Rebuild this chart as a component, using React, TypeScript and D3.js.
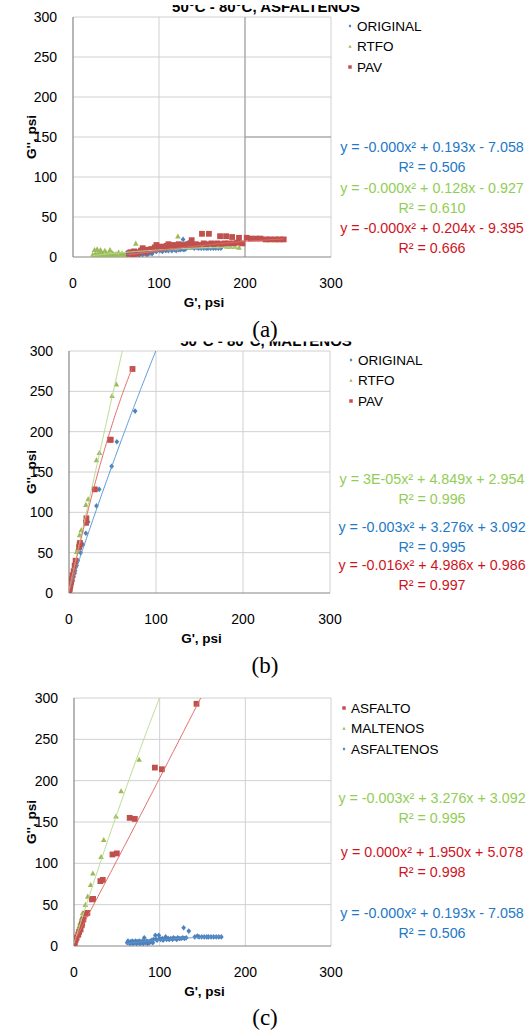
import React from "react";
import * as d3 from "d3";

type Pt = [number, number];

const W = 528;
const H = 1032;
const FONT = "'Liberation Sans', Arial, sans-serif";

const xTicks = [0, 100, 200, 300];
const yTicks = [0, 50, 100, 150, 200, 250, 300];

// (a) asfaltenos: original / rtfo / pav  (G', G'')
const originalA: Pt[] = [
  [62, 4], [63, 6], [65, 3], [66, 5], [67, 4], [68, 6], [69, 3], [70, 5], [71, 4], [72, 6],
  [73, 3], [74, 5], [75, 4], [76, 6], [77, 3], [78, 5], [79, 4], [80, 6], [81, 3], [82, 10],
  [83, 5], [84, 4], [85, 6], [86, 3], [87, 5], [88, 4], [89, 6], [90, 5], [91, 7], [92, 4],
  [93, 8], [95, 13], [96, 8], [97, 7], [99, 13], [100, 9], [101, 8], [103, 9], [104, 7], [106, 9],
  [107, 11], [108, 8], [110, 9], [111, 8], [113, 9], [115, 8], [116, 10], [118, 9], [120, 8], [121, 10],
  [123, 9], [125, 9], [127, 10], [128, 22], [129, 9], [131, 10], [134, 18], [141, 11], [144, 12], [146, 11],
  [149, 11], [152, 11], [155, 11], [157, 11], [160, 11], [163, 11], [166, 11], [169, 11], [172, 11],
];
const rtfoA: Pt[] = [
  [23, 3], [24, 1], [25, 9], [26, 4], [27, 2], [28, 10], [29, 5], [30, 1], [31, 3], [32, 9],
  [33, 6], [34, 2], [35, 4], [36, 1], [37, 8], [38, 3], [39, 5], [40, 2], [41, 1], [42, 4],
  [43, 9], [44, 3], [45, 2], [46, 5], [47, 1], [48, 3], [50, 4], [51, 2], [53, 6], [55, 3],
  [57, 5], [59, 2], [61, 4], [63, 3], [73, 17], [78, 9], [82, 7], [86, 10], [90, 9], [94, 11],
  [98, 10], [103, 12], [107, 11], [112, 10], [116, 12], [120, 11], [122, 26], [125, 13], [129, 12], [133, 13],
  [137, 12], [141, 14], [146, 13], [150, 13], [155, 14], [160, 13], [164, 14], [169, 13], [174, 14], [179, 13],
  [183, 13], [188, 13], [193, 12],
];
const pavA: Pt[] = [
  [65, 4], [67, 6], [69, 3], [71, 7], [73, 5], [75, 4], [77, 6], [79, 8], [81, 11], [83, 7],
  [85, 6], [87, 9], [89, 8], [91, 10], [93, 9], [95, 12], [97, 15], [99, 11], [101, 10], [103, 13],
  [105, 12], [107, 11], [109, 14], [111, 16], [113, 13], [115, 12], [117, 15], [119, 14], [121, 13], [123, 16],
  [125, 14], [127, 13], [129, 15], [131, 14], [133, 16], [135, 15], [138, 21], [140, 14], [143, 16], [146, 15],
  [150, 29], [152, 17], [155, 16], [158, 29], [161, 17], [164, 16], [168, 17], [171, 26], [173, 16], [176, 17],
  [178, 26], [181, 17], [185, 25], [187, 17], [191, 18], [193, 24], [197, 17], [202, 24], [207, 23], [213, 23],
  [218, 23], [224, 22], [229, 22], [235, 22], [240, 22], [245, 22],
];

// (b) maltenos: original / rtfo / pav
const originalB: Pt[] = [
  [0, 0], [0.5, 2], [1, 4], [1.5, 5], [2, 8], [3, 11], [4, 15], [5, 20], [6, 24], [7, 28],
  [8.8, 34], [10, 40], [13.3, 50], [16, 60], [19.4, 74], [22, 88], [31.6, 108], [34.7, 128.5], [49, 157], [55, 187.5],
  [76, 225.5],
];
const rtfoB: Pt[] = [
  [0, 0], [0.5, 3], [1, 6], [1.5, 9], [2.5, 13], [3, 17], [4, 22], [5, 25], [6, 30], [7, 36],
  [8, 40], [8.8, 51], [10, 55], [11, 60], [12.2, 72], [14, 78], [19.4, 109.5], [22, 116.5], [31.6, 165], [35, 174],
  [49.5, 244.6], [54.5, 258.7],
];
const pavB: Pt[] = [
  [0, 0], [0.3, 2], [0.8, 5], [1.2, 8], [1.7, 10], [2.5, 14], [3, 17], [4, 22], [5.3, 27], [6.5, 34],
  [7.6, 40], [11.7, 57], [12.2, 60], [12.6, 62], [19.6, 87], [20, 92.6], [29.7, 128.5], [47, 190], [48, 190], [73, 277.7],
];

// (c) asfalto / maltenos / asfaltenos
const asfaltoC: Pt[] = [
  [0, 1.5], [1, 4], [2, 7.5], [3, 10], [5, 13.6], [6, 17], [7.7, 20], [9, 25], [9.5, 27.4], [11, 32],
  [13.7, 39], [15.6, 40], [21, 56.4], [22.3, 57], [30.8, 78.5], [33.6, 80], [44.9, 110.7], [50, 112], [65, 155], [71, 153.7],
  [94.4, 215.8], [102.6, 213.8], [143, 293],
];
const maltenosC = originalB;
const asfaltenosC = originalA;

// trendline labels and the coefficients read from them (a, b, c of a x² + b x + c)
const eqA = ["y = -0.000x² + 0.193x - 7.058", "y = -0.000x² + 0.128x - 0.927", "y = -0.000x² + 0.204x - 9.395"];
const r2A = ["R² = 0.506", "R² = 0.610", "R² = 0.666"];
const coefA = [[-0.0005, 0.193, -7.058], [-0.0003, 0.128, -0.927], [-0.0003, 0.204, -9.395]];
const eqB = ["y = -0.003x² + 3.276x + 3.092", "y = 3E-05x² + 4.849x + 2.954", "y = -0.016x² + 4.986x + 0.986"];
const r2B = ["R² = 0.995", "R² = 0.996", "R² = 0.997"];
const coefB = [[-0.003, 3.276, 3.092], [3e-5, 4.849, 2.954], [-0.016, 4.986, 0.986]];
const eqC = ["y = 0.000x² + 1.950x + 5.078", "y = -0.003x² + 3.276x + 3.092", "y = -0.000x² + 0.193x - 7.058"];
const r2C = ["R² = 0.998", "R² = 0.995", "R² = 0.506"];
const coefC = [[0.0003, 1.95, 5.078], [-0.003, 3.276, 3.092], [-0.0005, 0.193, -7.058]];

const BLUE = { mark: "#4F81BD", line: "#5B9BD5", text: "#2478C6" };
const GREEN = { mark: "#9BBB59", line: "#BCDC92", text: "#92CD55" };
const RED = { mark: "#C0504D", line: "#E46A6A", text: "#D0141E" };

type Series = {
  name: string;
  data: Pt[];
  shape: "diamond" | "triangle" | "square";
  col: { mark: string; line: string; text: string };
  eq: string;
  r2: string;
  coef: number[];
  eqY: number;
  trendEnd?: number;
};

type Panel = {
  id: string;
  left: number; right: number; top: number; bottom: number;
  title?: string; titleY?: number; titleClipTop?: number;
  caption: string; captionY: number;
  legendX: number; legendY: number;
  series: Series[];
  drawOrder: number[];
  darkGrid?: boolean;
};

const panels: Panel[] = [
  {
    id: "a", left: 73, right: 331, top: 17, bottom: 257,
    title: "50°C - 80°C, ASFALTENOS", titleY: 12, titleClipTop: 5,
    caption: "(a)", captionY: 329, legendX: 350, legendY: 26, darkGrid: true,
    series: [
      { name: "ORIGINAL", data: originalA, shape: "diamond", col: BLUE, eq: eqA[0], r2: r2A[0], coef: coefA[0], eqY: 147 },
      { name: "RTFO", data: rtfoA, shape: "triangle", col: GREEN, eq: eqA[1], r2: r2A[1], coef: coefA[1], eqY: 188 },
      { name: "PAV", data: pavA, shape: "square", col: RED, eq: eqA[2], r2: r2A[2], coef: coefA[2], eqY: 228 },
    ],
    drawOrder: [0, 1, 2],
  },
  {
    id: "b", left: 69, right: 330, top: 351, bottom: 593,
    title: "50°C - 80°C, MALTENOS", titleY: 345.5, titleClipTop: 341.5,
    caption: "(b)", captionY: 665, legendX: 351, legendY: 360,
    series: [
      { name: "ORIGINAL", data: originalB, shape: "diamond", col: BLUE, eq: eqB[0], r2: r2B[0], coef: coefB[0], eqY: 527, trendEnd: 105 },
      { name: "RTFO", data: rtfoB, shape: "triangle", col: GREEN, eq: eqB[1], r2: r2B[1], coef: coefB[1], eqY: 479, trendEnd: 80 },
      { name: "PAV", data: pavB, shape: "square", col: RED, eq: eqB[2], r2: r2B[2], coef: coefB[2], eqY: 565 },
    ],
    drawOrder: [0, 1, 2],
  },
  {
    id: "c", left: 74, right: 331, top: 698, bottom: 946,
    caption: "(c)", captionY: 1017, legendX: 344, legendY: 708,
    series: [
      { name: "ASFALTO", data: asfaltoC, shape: "square", col: RED, eq: eqC[0], r2: r2C[0], coef: coefC[0], eqY: 852, trendEnd: 160 },
      { name: "MALTENOS", data: maltenosC, shape: "triangle", col: GREEN, eq: eqC[1], r2: r2C[1], coef: coefC[1], eqY: 798, trendEnd: 105 },
      { name: "ASFALTENOS", data: asfaltenosC, shape: "diamond", col: BLUE, eq: eqC[2], r2: r2C[2], coef: coefC[2], eqY: 913 },
    ],
    drawOrder: [2, 1, 0],
  },
];

function Marker({ shape, color, x, y, s = 1 }: { shape: string; color: string; x: number; y: number; s?: number }) {
  if (shape === "square") {
    const h = 2.9 * s;
    return <rect x={x - h} y={y - h} width={2 * h} height={2 * h} fill={color} />;
  }
  if (shape === "triangle") {
    const h = 2.8 * s;
    return <path d={`M${x},${y - h}L${x + h},${y + h * 0.8}L${x - h},${y + h * 0.8}Z`} fill={color} />;
  }
  const h = 2.8 * s;
  return <path d={`M${x},${y - h}L${x + h * 0.85},${y}L${x},${y + h}L${x - h * 0.85},${y}Z`} fill={color} />;
}

function ChartPanel({ p }: { p: Panel }) {
  const x = d3.scaleLinear().domain([0, 300]).range([p.left, p.right]);
  const y = d3.scaleLinear().domain([0, 300]).range([p.bottom, p.top]);
  const line = d3.line<Pt>().x((d) => x(d[0])).y((d) => y(d[1]));
  const midX = (p.left + p.right) / 2 + 2;
  const midY = (p.top + p.bottom) / 2;
  const eqX = 432;

  return (
    <g>
      <defs>
        <clipPath id={`plot-${p.id}`}>
          <rect x={p.left} y={p.top} width={p.right - p.left} height={p.bottom - p.top} />
        </clipPath>
        {p.titleClipTop !== undefined && (
          <clipPath id={`title-${p.id}`}>
            <rect x={0} y={p.titleClipTop} width={W} height={40} />
          </clipPath>
        )}
      </defs>

      {p.title && (
        <text
          x={266}
          y={p.titleY}
          textAnchor="middle"
          fontFamily={FONT}
          fontWeight="bold"
          fontSize={15}
          clipPath={p.titleClipTop !== undefined ? `url(#title-${p.id})` : undefined}
        >
          {p.title}
        </text>
      )}

      {/* grid */}
      {yTicks.filter((t) => t > 0).map((t) => (
        <line key={`gy${t}`} x1={p.left} x2={p.right} y1={y(t)} y2={y(t)} stroke="#D0D0D0" strokeWidth={1} />
      ))}
      {xTicks.filter((t) => t > 0).map((t) => (
        <line key={`gx${t}`} x1={x(t)} x2={x(t)} y1={p.top} y2={p.bottom} stroke="#D0D0D0" strokeWidth={1} />
      ))}
      {p.darkGrid && (
        <g stroke="#999" strokeWidth={1}>
          <line x1={x(200)} x2={x(200)} y1={p.top} y2={p.bottom} />
          <line x1={x(200)} x2={p.right} y1={y(150)} y2={y(150)} />
        </g>
      )}
      <line x1={p.left} x2={p.left} y1={p.top} y2={p.bottom} stroke="#868686" strokeWidth={1.2} />
      <line x1={p.left} x2={p.right} y1={p.bottom} y2={p.bottom} stroke="#868686" strokeWidth={1.2} />

      {/* ticks */}
      {yTicks.map((t) => (
        <text key={`ty${t}`} x={p.left - 16} y={y(t)} dy="0.35em" textAnchor="end" fontFamily={FONT} fontSize={14}>
          {t}
        </text>
      ))}
      {xTicks.map((t) => (
        <text key={`tx${t}`} x={x(t)} y={p.bottom + 26} dy="0.35em" textAnchor="middle" fontFamily={FONT} fontSize={14}>
          {t}
        </text>
      ))}
      <text x={midX} y={p.bottom + 45} dy="0.35em" textAnchor="middle" fontFamily={FONT} fontWeight="bold" fontSize={13.5}>
        G', psi
      </text>
      <text
        transform={`translate(31,${midY}) rotate(-90)`}
        textAnchor="middle"
        dy="0.35em"
        fontFamily={FONT}
        fontWeight="bold"
        fontSize={13.5}
      >
        G'', psi
      </text>

      {/* markers then trendlines */}
      <g clipPath={`url(#plot-${p.id})`}>
        {p.drawOrder.map((i) => {
          const s = p.series[i];
          return (
            <g key={`m${i}`}>
              {s.data.map((d, k) => (
                <Marker key={k} shape={s.shape} color={s.col.mark} x={x(d[0])} y={y(d[1])} />
              ))}
            </g>
          );
        })}
        {p.drawOrder.map((i) => {
          const s = p.series[i];
          const [a, b, c] = s.coef;
          const [x0, x1] = d3.extent(s.data, (d) => d[0]) as [number, number];
          const end = s.trendEnd ?? x1;
          const pts: Pt[] = d3.range(0, 121).map((k) => {
            const xv = x0 + ((end - x0) * k) / 120;
            return [xv, a * xv * xv + b * xv + c];
          });
          return <path key={`t${i}`} d={line(pts) ?? ""} fill="none" stroke={s.col.line} strokeWidth={1} />;
        })}
      </g>

      {/* legend */}
      {p.series.map((s, i) => (
        <g key={`l${i}`}>
          <Marker shape={s.shape} color={s.col.mark} x={p.legendX} y={p.legendY + i * 20.5} s={0.6} />
          <text x={p.legendX + 7} y={p.legendY + i * 20.5} dy="0.35em" fontFamily={FONT} fontSize={13.5}>
            {s.name}
          </text>
        </g>
      ))}

      {/* trendline equations */}
      {p.series.map((s, i) => (
        <g key={`e${i}`} fill={s.col.text} fontFamily={FONT} fontSize={14.3} textAnchor="middle">
          <text x={eqX} y={s.eqY} dy="0.35em">{s.eq}</text>
          <text x={eqX} y={s.eqY + 19.5} dy="0.35em">{s.r2}</text>
        </g>
      ))}

      <text x={265} y={p.captionY} dy="0.35em" textAnchor="middle" fontFamily="'Liberation Serif', 'Times New Roman', serif" fontSize={23}>
        {p.caption}
      </text>
    </g>
  );
}

export default function App() {
  return (
    <svg width={W} height={H} style={{ position: "absolute", left: 0, top: 0, background: "#fff" }}>
      <rect width={W} height={H} fill="#fff" />
      {panels.map((p) => (
        <ChartPanel key={p.id} p={p} />
      ))}
    </svg>
  );
}
